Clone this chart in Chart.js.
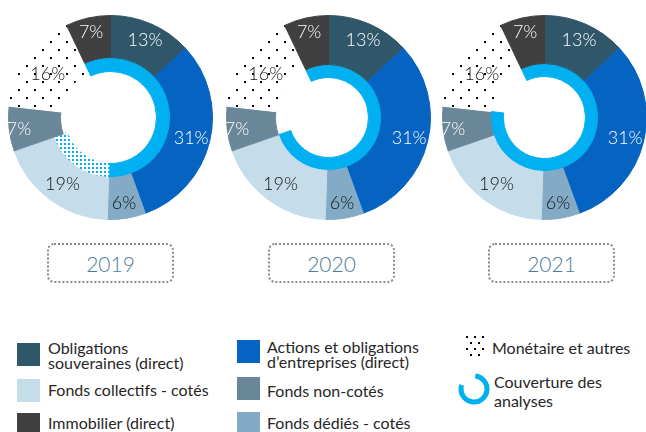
<!DOCTYPE html>
<html><head><meta charset="utf-8">
<script src="https://cdn.jsdelivr.net/npm/chart.js@4.4.0/dist/chart.umd.min.js"></script>
<style>
html,body{margin:0;padding:0;background:#fff;width:646px;height:432px;overflow:hidden;position:relative;font-family:Lato,'Noto Sans',sans-serif;}
canvas.cv{position:absolute;top:15px;}
.year{position:absolute;top:243px;box-sizing:border-box;width:127px;height:40px;border:2px dotted #8a8a8a;border-radius:7px;color:#4d7b9c;font-size:21px;font-weight:300;display:flex;align-items:center;justify-content:center;}
.sw{position:absolute;width:23px;height:23px;}
.lt{position:absolute;font-size:16px;line-height:15px;color:#262626;white-space:nowrap;}
#dotsIcon{position:absolute;left:465px;top:335px;width:19px;height:21px;}
#covIcon{position:absolute;left:456px;top:371px;}
</style></head><body>
<canvas id="c0" class="cv" width="205" height="205" style="left:8px"></canvas>
<canvas id="c1" class="cv" width="205" height="205" style="left:226px"></canvas>
<canvas id="c2" class="cv" width="205" height="205" style="left:442px"></canvas>
<div id="years"></div>
<div id="legend"></div>
<canvas id="dotsIcon" width="19" height="21"></canvas>
<canvas id="covIcon" width="36" height="36"></canvas>
<script>
// ---------- data ----------
const categories = ['Obligations souveraines (direct)', 'Actions et obligations d’entreprises (direct)', 'Fonds dédiés - cotés', 'Fonds collectifs - cotés', 'Fonds non-cotés', 'Monétaire et autres', 'Immobilier (direct)'];
const years = ['2019', '2020', '2021'];
const values2019 = [13, 31, 6, 19, 7, 16, 7];
const values2020 = [13, 31, 6, 19, 7, 16, 7];
const values2021 = [13, 31, 6, 19, 7, 16, 7];
// coverage of the analyses per category: 1 = covered, 0.5 = partially covered, 0 = not covered
const coverage2019 = [1, 1, 1, 0.5, 0, 0, 1];
const coverage2020 = [1, 1, 1, 1, 0, 0, 1];
const coverage2021 = [1, 1, 1, 1, 1, 0, 1];

// ---------- styles ----------
const BLUE = '#00b0f0';
function makePattern(tile, dots, color, size) {
  const c = document.createElement('canvas'); c.width = c.height = tile;
  const g = c.getContext('2d');
  g.fillStyle = '#fff'; g.fillRect(0, 0, tile, tile);
  g.fillStyle = color;
  dots.forEach(d => g.fillRect(d[0], d[1], size, size));
  return g.createPattern(c, 'repeat');
}
const monetaireFill = makePattern(16, [[2, 2], [10, 10]], '#000', 2);
const blueDots = makePattern(4, [[0, 0]], BLUE, 2);
const SEG_COLORS = ['#305669', '#0563c1', '#84abc5', '#c5ddeb', '#6a8799', monetaireFill, '#404040'];
const LEGEND_COLORS = ['#305669', '#0563c1', '#84abc5', '#c5ddeb', '#6a8799', null, '#404040'];
const LABEL_COLORS = ['#fff', '#fff', '#111', '#111', '#fff', '#111', '#fff'];
const LABEL_INSET = [16, 19, 16, 21, 10, 25, 14];
const GEOM = [
  { ringOut: 60, segIn: 50, cut: 46 },
  { ringOut: 53, segIn: 53, cut: 40 },
  { ringOut: 54, segIn: 54, cut: 41 }
];
const R = 102;
const CLEAR = 'rgba(0,0,0,0)';

function covColor(c, fallback) {
  if (c === 1) return BLUE;
  if (c === 0.5) return blueDots;
  return fallback;
}
function ring(values, colors, weight) {
  return { data: values, backgroundColor: colors, borderColor: colors, borderWidth: 1, weight: weight };
}
function buildDatasets(values, coverage, g) {
  const ds = [ring(values, SEG_COLORS, R - g.ringOut)];
  if (g.ringOut > g.segIn) {
    ds.push(ring(values, coverage.map((c, i) => covColor(c, SEG_COLORS[i])), g.ringOut - g.segIn));
  }
  ds.push(ring(values, coverage.map(c => covColor(c, CLEAR)), g.segIn - g.cut));
  return ds;
}

const labelPlugin = {
  id: 'pctLabels',
  afterDatasetsDraw(chart) {
    const ctx = chart.ctx;
    const meta = chart.getDatasetMeta(0);
    const data = chart.data.datasets[0].data;
    ctx.save();
    ctx.font = '300 18px Lato';
    ctx.textAlign = 'center';
    ctx.textBaseline = 'middle';
    meta.data.forEach((arc, i) => {
      const p = arc.getProps(['startAngle', 'endAngle', 'outerRadius', 'x', 'y'], true);
      const a = (p.startAngle + p.endAngle) / 2;
      const r = p.outerRadius - LABEL_INSET[i];
      ctx.fillStyle = LABEL_COLORS[i];
      ctx.fillText(data[i] + '%', p.x + Math.cos(a) * r, p.y + Math.sin(a) * r + 1);
    });
    ctx.restore();
  }
};

const allValues = [values2019, values2020, values2021];
const allCoverage = [coverage2019, coverage2020, coverage2021];
allValues.forEach((vals, k) => {
  new Chart(document.getElementById('c' + k), {
    type: 'doughnut',
    data: { labels: categories, datasets: buildDatasets(vals, allCoverage[k], GEOM[k]) },
    options: {
      responsive: false, animation: false,
      cutout: GEOM[k].cut,
      layout: { padding: 0 },
      plugins: { legend: { display: false }, tooltip: { enabled: false } },
      events: []
    },
    plugins: [labelPlugin]
  });
});

// year boxes
const yearLeft = [47, 268, 488];
years.forEach((y, k) => {
  const d = document.createElement('div');
  d.className = 'year'; d.style.left = yearLeft[k] + 'px'; d.textContent = y;
  document.getElementById('years').appendChild(d);
});

// legend
const legendItems = [
  { i: 0, sw: [17, 343], tx: [48, 340], text: 'Obligations<br>souveraines (direct)' },
  { i: 3, sw: [17, 379], tx: [48, 382], text: categories[3] },
  { i: 6, sw: [17, 413], tx: [48, 415], text: categories[6] },
  { i: 1, sw: [237, 340], tx: [267, 339], text: 'Actions et obligations<br>d’entreprises (direct)' },
  { i: 4, sw: [237, 377], tx: [267, 383], text: categories[4] },
  { i: 2, sw: [237, 412], tx: [267, 415], text: categories[2] },
  { i: 5, sw: null, tx: [492, 340], text: categories[5] },
  { i: -1, sw: null, tx: [494, 372], text: 'Couverture des<br>analyses', lh: 19 }
];
const leg = document.getElementById('legend');
legendItems.forEach(it => {
  if (it.sw) {
    const s = document.createElement('div');
    s.className = 'sw'; s.style.left = it.sw[0] + 'px'; s.style.top = it.sw[1] + 'px';
    s.style.background = LEGEND_COLORS[it.i];
    leg.appendChild(s);
  }
  const t = document.createElement('div');
  t.className = 'lt'; t.style.left = it.tx[0] + 'px'; t.style.top = it.tx[1] + 'px';
  if (it.lh) t.style.lineHeight = it.lh + 'px';
  t.innerHTML = it.text;
  leg.appendChild(t);
});

// legend icons
(function () {
  const g = document.getElementById('dotsIcon').getContext('2d');
  g.fillStyle = '#000';
  [[1, 1], [9, 1], [17, 1], [5, 7], [13, 7], [1, 13], [9, 13], [17, 13], [5, 19], [13, 19]].forEach(p => g.fillRect(p[0], p[1], 2, 2));
  const h = document.getElementById('covIcon').getContext('2d');
  h.strokeStyle = BLUE; h.lineWidth = 5;
  h.beginPath();
  h.arc(18, 18, 13, -Math.PI / 2 + 0.1, -Math.PI / 2 + 2 * Math.PI * 0.8);
  h.stroke();
})();
</script>
</body></html>
